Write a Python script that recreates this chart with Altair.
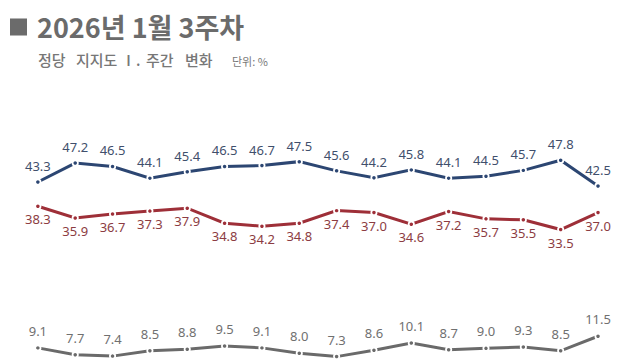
import altair as alt
import pandas as pd

weeks = list(range(1, 17))
party_a = [43.3, 47.2, 46.5, 44.1, 45.4, 46.5, 46.7, 47.5, 45.6, 44.2, 45.8, 44.1, 44.5, 45.7, 47.8, 42.5]
party_b = [38.3, 35.9, 36.7, 37.3, 37.9, 34.8, 34.2, 34.8, 37.4, 37.0, 34.6, 37.2, 35.7, 35.5, 33.5, 37.0]
party_c = [9.1, 7.7, 7.4, 8.5, 8.8, 9.5, 9.1, 8.0, 7.3, 8.6, 10.1, 8.7, 9.0, 9.3, 8.5, 11.5]
series_names = ["더불어민주당", "국민의힘", "기타 정당"]
line_colors = ["#2c4672", "#9e2f38", "#6a6a6a"]
label_colors = ["#3f4f6c", "#8c3c42", "#707070"]

title_text = "2026년 1월 3주차"
subtitle_words = ["정당", "지지도", "Ⅰ.", "주간", "변화"]
unit_text = "단위: %"

rows = []
for name, vals in zip(series_names, [party_a, party_b, party_c]):
    for w, v in zip(weeks, vals):
        rows.append({"week": w, "party": name, "value": v})
df = pd.DataFrame(rows)

W, H = 624, 352
xs = alt.Scale(domain=[0.2, 16.91], nice=False, zero=False)
ys = alt.Scale(domain=[6.6, 79.18], nice=False, zero=False)
color = alt.Color("party:N", scale=alt.Scale(domain=series_names, range=line_colors), legend=None)

base = alt.Chart(df).encode(
    x=alt.X("week:Q", scale=xs, axis=None),
    y=alt.Y("value:Q", scale=ys, axis=None),
)

lines = base.mark_line(strokeWidth=3, clip=False).encode(color=color, detail="party:N")
points = base.mark_point(filled=True, size=28, stroke="white", strokeWidth=1.8, opacity=1, clip=False).encode(
    fill=alt.Fill("party:N", scale=alt.Scale(domain=series_names, range=line_colors), legend=None)
)

label_layers = []
offsets = [-15, 14, -16]
for name, col, dy in zip(series_names, label_colors, offsets):
    label_layers.append(
        base.transform_filter(alt.datum.party == name)
        .mark_text(dy=dy, fontSize=13, font="Noto Sans", color=col, baseline="middle", clip=False)
        .encode(text=alt.Text("value:Q", format=".1f"))
    )

tdf = pd.DataFrame({"t": [title_text], "u": [unit_text]})
tchart = alt.Chart(tdf)
square = tchart.mark_square(size=290, color="#6b6b6b", opacity=1, filled=True).encode(
    x=alt.value(10.5), y=alt.value(19)
)
title = tchart.mark_text(
    font="Noto Sans CJK KR", fontSize=27, fontWeight="bold", color="#6b6b6b", align="left", baseline="alphabetic"
).encode(text="t:N", x=alt.value(29), y=alt.value(30))

word_x = [30, 68, 113, 138, 177]
sub_layers = []
for word, wx in zip(subtitle_words, word_x):
    wdf = pd.DataFrame({"s": [word]})
    sub_layers.append(
        alt.Chart(wdf).mark_text(
            font="Noto Sans CJK KR", fontSize=15, fontWeight=500, color="#777777", align="left", baseline="alphabetic"
        ).encode(text="s:N", x=alt.value(wx), y=alt.value(58))
    )
unit = tchart.mark_text(
    font="Noto Sans CJK KR", fontSize=11, color="#777777", align="left", baseline="alphabetic"
).encode(text="u:N", x=alt.value(224), y=alt.value(58))

chart = (
    alt.layer(lines, points, *label_layers, square, title, *sub_layers, unit)
    .properties(width=W, height=H, padding=0, autosize=alt.AutoSizeParams(type="none"), background="white")
    .configure_view(stroke=None)
)

chart.save("out.html", embed_options={"renderer": "svg", "actions": False})
